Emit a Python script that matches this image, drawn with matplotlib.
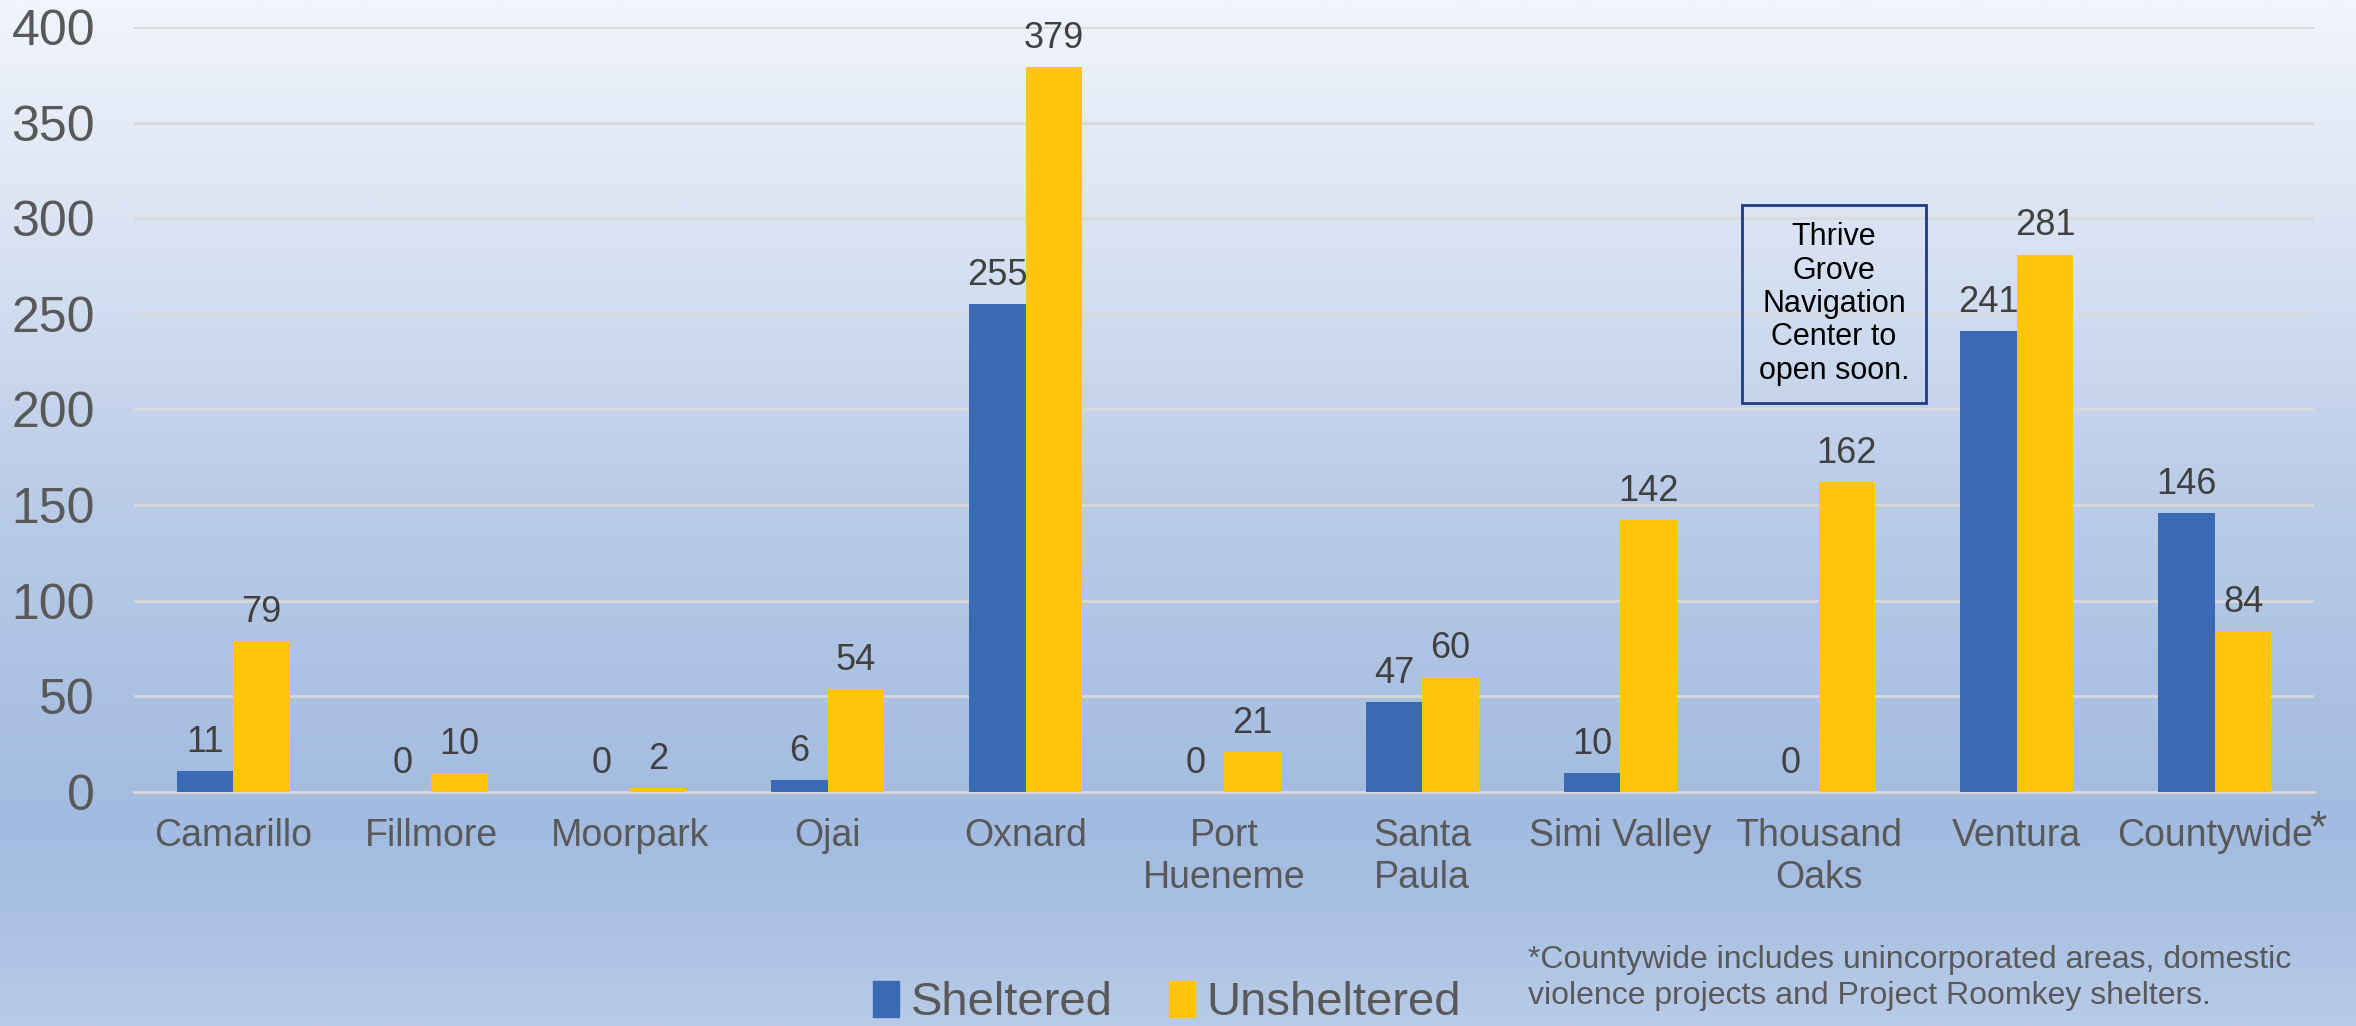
import matplotlib.pyplot as plt
import numpy as np
from matplotlib.colors import LinearSegmentedColormap
from matplotlib.patches import Patch

plt.rcParams['font.family'] = ['Liberation Sans', 'DejaVu Sans']

cities = ['Camarillo', 'Fillmore', 'Moorpark', 'Ojai', 'Oxnard', 'Port\nHueneme',
          'Santa\nPaula', 'Simi Valley', 'Thousand\nOaks', 'Ventura', 'Countywide']
sheltered = [11, 0, 0, 6, 255, 0, 47, 10, 0, 241, 146]
unsheltered = [79, 10, 2, 54, 379, 21, 60, 142, 162, 281, 84]
yticks = [0, 50, 100, 150, 200, 250, 300, 350, 400]

blue = '#3a6ab3'
yellow = '#ffc50b'
grey = '#595959'

fig = plt.figure(figsize=(23.56, 10.26), dpi=100)

# gradient background over the whole figure (top -> bottom)
bg = fig.add_axes([0, 0, 1, 1], zorder=-10)
cmap = LinearSegmentedColormap.from_list('bg', [
    (0.0, '#f1f5fc'), (0.3, '#d1ddf0'), (0.48, '#bacce8'),
    (0.8, '#a2bbe0'), (0.85, '#a4bde1'), (1.0, '#b8cbe8')])
bg.imshow(np.linspace(0, 1, 512).reshape(-1, 1), aspect='auto', cmap=cmap,
          extent=[0, 1, 0, 1])
bg.axis('off')

ax = fig.add_axes([0.0569, 0.2281, 0.9253, 0.7456])
ax.patch.set_alpha(0)

x = np.arange(len(cities))
w = 0.285
b1 = ax.bar(x - w / 2, sheltered, w, color=blue, zorder=3)
b2 = ax.bar(x + w / 2, unsheltered, w, color=yellow, zorder=3)

for bars, vals in [(b1, sheltered), (b2, unsheltered)]:
    for r, v in zip(bars, vals):
        ax.annotate(str(v), (r.get_x() + r.get_width() / 2, v), xytext=(0, 8),
                    textcoords='offset points', ha='center', va='bottom',
                    fontsize=26, color='#404040', zorder=4)

ax.set_xlim(-0.5, len(cities) - 0.5)
ax.set_ylim(0, 400)
ax.set_yticks(yticks)
ax.set_xticks(x)
ax.set_xticklabels(cities)
ax.tick_params(axis='y', length=0, pad=28, labelsize=36, labelcolor=grey)
ax.tick_params(axis='x', length=0, pad=19, labelsize=27, labelcolor=grey)
ax.grid(axis='y', color='#d9d9d9', linewidth=2, zorder=0)
for s in ['top', 'right', 'left']:
    ax.spines[s].set_visible(False)
ax.spines['bottom'].set_color('#d9d9d9')
ax.spines['bottom'].set_linewidth(2)

# asterisk on Countywide
fig.text(2318 / 2356, 1 - 830 / 1026, '*', fontsize=32, color=grey,
         ha='center', va='center')

# note box
fig.text(1834 / 2356, 1 - 304 / 1026,
         'Thrive\nGrove\nNavigation\nCenter to\nopen soon.',
         fontsize=22, color='black', ha='center', va='center', linespacing=1.15,
         bbox=dict(boxstyle='square,pad=0.55', facecolor='none',
                   edgecolor='#1f3a86', linewidth=2))

# footnote
fig.text(1528 / 2356, 1 - 978 / 1026,
         '*Countywide includes unincorporated areas, domestic\nviolence projects and Project Roomkey shelters.',
         fontsize=23, color=grey, ha='left', va='center', linespacing=1.25)

handles = [Patch(color=blue, label='Sheltered'), Patch(color=yellow, label='Unsheltered')]
fig.legend(handles=handles, loc='center', bbox_to_anchor=(1167 / 2356, 1 - 1003 / 1026),
           ncol=2, frameon=False, fontsize=34, labelcolor=grey,
           handlelength=0.55, handleheight=0.8, handletextpad=0.25, columnspacing=1.2,
           borderpad=0)

fig.savefig('out.png', dpi=100)
